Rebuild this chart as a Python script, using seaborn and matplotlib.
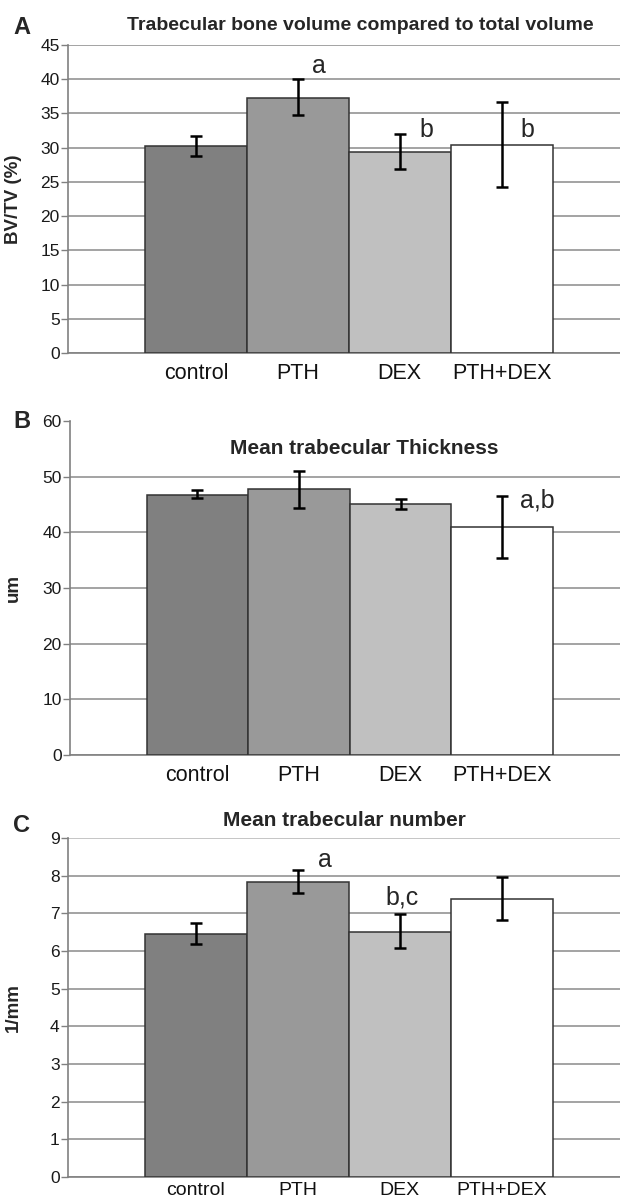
import numpy as np
import pandas as pd
import matplotlib
matplotlib.use("Agg")
import matplotlib.pyplot as plt
import seaborn as sns

sns.set_style("white")
plt.rcParams['font.family'] = ['Liberation Sans', 'DejaVu Sans']

groups = ["control", "PTH", "DEX", "PTH+DEX"]
bar_colors = ["#808080", "#999999", "#c0c0c0", "#ffffff"]

# Panel A: BV/TV (%)
bvtv_mean = [30.2, 37.3, 29.4, 30.4]
bvtv_low = [28.8, 34.8, 26.9, 24.2]
bvtv_high = [31.7, 40.1, 32.0, 36.7]
bvtv_letters = ["", "a", "b", "b"]

# Panel B: thickness (um)
thick_mean = [46.7, 47.7, 45.1, 41.0]
thick_low = [46.2, 44.4, 44.2, 35.3]
thick_high = [47.6, 51.1, 46.0, 46.5]
thick_letters = ["", "", "", "a,b"]

# Panel C: number (1/mm)
num_mean = [6.45, 7.83, 6.51, 7.38]
num_low = [6.18, 7.53, 6.08, 6.83]
num_high = [6.75, 8.15, 6.97, 7.96]
num_letters = ["", "a", "b,c", ""]

W, H = 620, 1201
fig = plt.figure(figsize=(W / 100, H / 100), dpi=100)

grid_col = "#8a8a8a"
spine_col = "#808080"


def panel(rect, mean, low, high, letters, ylim, yticks, ylabel, title, title_xy, title_size,
          letter_pos, hide_top_grid=False, top_grid_col=None, xpad=4, xsize=15.5):
    ax = fig.add_axes([rect[0] / W, 1 - rect[3] / H, (rect[2] - rect[0]) / W, (rect[3] - rect[1]) / H])
    df = pd.DataFrame({"group": groups, "value": mean})
    sns.barplot(data=df, x="group", y="value", hue="group", palette=bar_colors,
                width=1.0, edgecolor="#333333", linewidth=1.1, legend=False, ax=ax, zorder=3)
    m = np.array(mean)
    yerr = np.vstack([m - np.array(low), np.array(high) - m])
    ax.errorbar(np.arange(len(groups)), m, yerr=yerr, fmt="none", ecolor="black",
                elinewidth=1.8, capsize=4, capthick=1.8, zorder=4)
    ax.set_xlim(-1.255, 4.16)
    ax.set_ylim(*ylim)
    ax.set_yticks(yticks)
    ax.yaxis.grid(True, color=grid_col, linewidth=1.1, zorder=0)
    ax.set_axisbelow(True)
    gl = ax.get_ygridlines()
    if hide_top_grid:
        gl[-1].set_visible(False)
    if top_grid_col is not None:
        gl[-1].set_color(top_grid_col)
    for s in ["top", "right"]:
        ax.spines[s].set_visible(False)
    for s in ["left", "bottom"]:
        ax.spines[s].set_color(spine_col)
        ax.spines[s].set_linewidth(1.2)
    ax.tick_params(axis="y", which="both", left=True, direction="out", length=5,
                   color=spine_col, width=1.0, labelsize=12.5, pad=1, labelcolor="#1a1a1a")
    ax.tick_params(axis="x", bottom=False, labelsize=xsize, pad=xpad, labelcolor="#111111")
    ax.set_xlabel("")
    ax.set_ylabel(ylabel, fontsize=13.5, fontweight="bold")
    ax.yaxis.set_label_coords(-(rect[0] - 22) / (rect[2] - rect[0]), 0.5)
    ax.text(title_xy[0], title_xy[1], title, transform=fig.transFigure,
            fontsize=title_size, fontweight="bold", ha="center", va="center")
    for i, t in enumerate(letters):
        if t:
            ax.text(letter_pos[i][0], letter_pos[i][1], t, fontsize=18, ha="center", va="center")
    return ax


panel((68, 45, 620, 353), bvtv_mean, bvtv_low, bvtv_high, bvtv_letters,
      (0, 45), np.arange(0, 46, 5), "BV/TV (%)", "Trabecular bone volume compared to total volume",
      (360 / W, 1 - 25 / H), 14, {1: (1.21, 42.0), 2: (2.26, 32.6), 3: (3.25, 32.6)})

panel((70, 421, 620, 755), thick_mean, thick_low, thick_high, thick_letters,
      (0, 60), np.arange(0, 61, 10), "um", "Mean trabecular Thickness",
      (364 / W, 1 - 448 / H), 15, {3: (3.35, 45.8)}, hide_top_grid=True)

panel((68, 838, 620, 1177), num_mean, num_low, num_high, num_letters,
      (0, 9), np.arange(0, 10, 1), "1/mm", "Mean trabecular number",
      (344 / W, 1 - 821 / H), 15, {1: (1.27, 8.42), 2: (2.02, 7.41)}, top_grid_col="#b5b5b5",
      xpad=0.0, xsize=14)

for lab, y in [("A", 27), ("B", 422), ("C", 826)]:
    fig.text(22 / W, 1 - y / H, lab, fontsize=17, fontweight="bold", ha="center", va="center")

fig.savefig("out.png", dpi=100)
